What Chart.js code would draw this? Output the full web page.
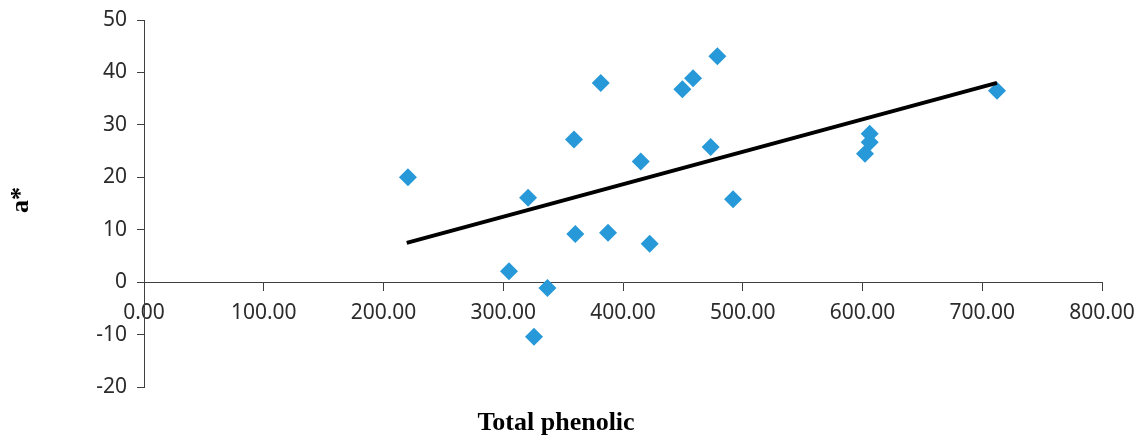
<!DOCTYPE html>
<html>
<head>
<meta charset="utf-8">
<script src="https://cdn.jsdelivr.net/npm/chart.js@4/dist/chart.umd.min.js"></script>
<style>
  html, body { margin: 0; padding: 0; background: #fff; }
  #wrap { width: 1142px; height: 440px; position: relative; }
</style>
</head>
<body>
<div id="wrap"><canvas id="chart"></canvas></div>
<script>
// values
var phenolic = [220.4, 304.8, 320.7, 336.9, 325.7, 360.2, 359.1, 381.4, 387.5, 414.8,
                422.3, 449.6, 458.5, 478.8, 473.2, 491.9, 602.1, 606.0, 606.0, 712.3];
var aStar    = [20.0, 2.1, 16.1, -1.1, -10.4, 9.2, 27.2, 38.0, 9.4, 23.0,
                7.3, 36.8, 38.9, 43.1, 25.8, 15.8, 24.5, 26.7, 28.3, 36.5];
// trend line ends
var trendX = [219.4, 712.3];
var trendY = [7.5, 38.0];

var xTitle = 'Total phenolic';
var yTitle = 'a*';

function pairs(xs, ys) {
    return xs.map(function (x, i) { return { x: x, y: ys[i] }; });
}

// axis titles, drawn like the Excel ones (not centred on the plot)
var axisTitles = {
    id: 'axisTitles',
    afterDraw: function (chart) {
        var c = chart.ctx;
        c.save();
        c.fillStyle = '#000';
        c.font = 'bold 26px "Liberation Serif", "Times New Roman", serif';
        c.textAlign = 'center';
        c.textBaseline = 'middle';
        c.fillText(xTitle, 556, 423);
        c.translate(21, 200);
        c.rotate(-Math.PI / 2);
        c.fillText(yTitle, 0, 0);
        c.restore();
    }
};

var ctx = document.getElementById('chart').getContext('2d');
var chart = new Chart(ctx, {
    type: 'scatter',
    data: {
        datasets: [
            {
                label: 'a*',
                data: pairs(phenolic, aStar),
                pointStyle: 'rectRot',
                pointRadius: 9,
                pointHoverRadius: 9,
                backgroundColor: '#2799d8',
                borderColor: '#2799d8',
                borderWidth: 0,
                order: 2
            },
            {
                label: 'trend',
                data: pairs(trendX, trendY),
                showLine: true,
                pointRadius: 0,
                borderColor: '#000',
                borderWidth: 4,
                fill: false,
                order: 1
            }
        ]
    },
    options: {
        responsive: true,
        maintainAspectRatio: false,
        animation: false,
        layout: { padding: { left: 0, right: 40, top: 20, bottom: 53 } },
        plugins: {
            legend: { display: false },
            tooltip: { enabled: false }
        },
        scales: {
            x: {
                type: 'linear',
                min: 0,
                max: 800,
                position: { y: 0 },
                ticks: {
                    stepSize: 100,
                    color: '#2b2b2b',
                    font: { family: '"Noto Sans", sans-serif', size: 21 },
                    padding: 10,
                    maxRotation: 0,
                    callback: function (v) { return v.toFixed(2); }
                },
                grid: { drawOnChartArea: false, drawTicks: true, tickLength: 8, color: '#404040' },
                border: { display: true, color: '#404040', width: 1 },
                afterFit: function (scale) { scale.paddingLeft = 0; scale.paddingRight = 0; }
            },
            y: {
                type: 'linear',
                min: -20,
                max: 50,
                ticks: {
                    stepSize: 10,
                    color: '#2b2b2b',
                    font: { family: '"Noto Sans", sans-serif', size: 21 },
                    padding: 10
                },
                grid: { drawOnChartArea: false, drawTicks: true, tickLength: 7, color: '#404040' },
                border: { display: true, color: '#404040', width: 1 },
                afterFit: function (scale) { scale.width = 144; scale.paddingTop = 0; scale.paddingBottom = 0; }
            }
        }
    },
    plugins: [axisTitles]
});
</script>
</body>
</html>
